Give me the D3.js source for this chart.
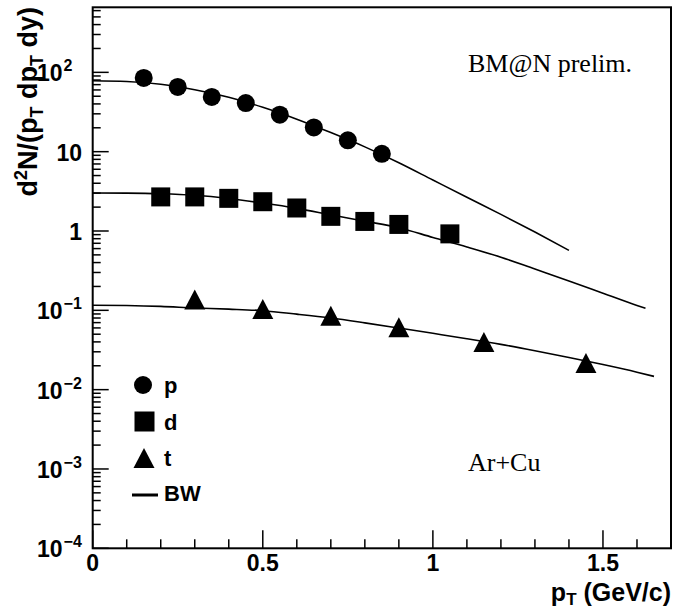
<!DOCTYPE html>
<html><head><meta charset="utf-8">
<script src="https://cdn.jsdelivr.net/npm/d3@7"></script>
<style>body{margin:0;background:#fff}svg{display:block}</style>
</head><body>
<svg id="c" width="674" height="611"></svg>
<script>
// ---- data ----
const pT_p = [0.15,0.25,0.35,0.45,0.55,0.65,0.75,0.85];
const val_p = [85,65.5,49,41,29.3,20.2,13.9,9.4];
const pT_d = [0.2,0.3,0.4,0.5,0.6,0.7,0.8,0.9,1.05];
const val_d = [2.69,2.69,2.58,2.34,1.95,1.53,1.32,1.21,0.92];
const pT_t = [0.3,0.5,0.7,0.9,1.15,1.45];
const val_t = [0.137,0.104,0.0855,0.0612,0.040,0.0216];
// blast-wave fit curves
const bwX_p = [0,0.1,0.2,0.3,0.4,0.5,0.6,0.7,0.8,0.9,1.0,1.1,1.2,1.3,1.4];
const bwY_p = [78.5,76.7,70.8,60.3,48.4,36.3,25.7,17.4,11.5,7.25,4.39,2.66,1.62,0.97,0.57];
const bwX_d = [0,0.1,0.2,0.3,0.4,0.5,0.6,0.7,0.8,0.9,1.0,1.1,1.2,1.3,1.4,1.5,1.6,1.625];
const bwY_d = [3.01,3.0,2.95,2.82,2.57,2.25,1.93,1.60,1.33,1.10,0.83,0.63,0.468,0.331,0.234,0.164,0.115,0.106];
const bwX_t = [0,0.1,0.2,0.3,0.4,0.5,0.6,0.7,0.8,0.9,1.0,1.1,1.2,1.3,1.4,1.5,1.6,1.65];
const bwY_t = [0.116,0.115,0.112,0.107,0.1035,0.0989,0.0895,0.080,0.0695,0.0598,0.0513,0.0439,0.0372,0.0309,0.0254,0.0207,0.0166,0.0147];
const xTickLabels = ["0","0.5","1","1.5"];
const xTickVals = [0,0.5,1,1.5];
const yDecades = [2,1,0,-1,-2,-3,-4];
const legendLabels = ["p","d","t","BW"];

// ---- layout ----
const L=92.7, R=671, T=7.3, B=548.3;
const x = d3.scaleLinear().domain([0,1.7]).range([L,R]);
const y = d3.scaleLog().domain([1e-4, Math.pow(10,2.82)]).range([B,T]);
const svg = d3.select("#c");
const g = svg.append("g");

// curves
const line = d3.line().x(d=>x(d[0])).y(d=>y(d[1])).curve(d3.curveMonotoneX);
[[bwX_p,bwY_p],[bwX_d,bwY_d],[bwX_t,bwY_t]].forEach(([xs,ys])=>{
  g.append("path").datum(xs.map((v,i)=>[v,ys[i]])).attr("d",line)
   .attr("fill","none").attr("stroke","#000").attr("stroke-width",1.6);
});

// markers
g.selectAll("circle.p").data(pT_p.map((v,i)=>[v,val_p[i]])).enter().append("circle")
  .attr("cx",d=>x(d[0])).attr("cy",d=>y(d[1])).attr("r",9).attr("fill","#000");
const sq=19;
g.selectAll("rect.d").data(pT_d.map((v,i)=>[v,val_d[i]])).enter().append("rect")
  .attr("x",d=>x(d[0])-sq/2).attr("y",d=>y(d[1])-sq/2).attr("width",sq).attr("height",sq).attr("fill","#000");
const tri=(cx,cy,w,h)=>`M${cx-w/2},${cy+h/2}L${cx+w/2},${cy+h/2}L${cx},${cy-h/2}Z`;
g.selectAll("path.t").data(pT_t.map((v,i)=>[v,val_t[i]])).enter().append("path")
  .attr("d",d=>tri(x(d[0]),y(d[1]),21,20)).attr("fill","#000");

// frame
g.append("rect").attr("x",L).attr("y",T).attr("width",R-L).attr("height",B-T)
  .attr("fill","none").attr("stroke","#000").attr("stroke-width",2);

const ff="Liberation Sans, Arial, sans-serif";
// x ticks
const xMinor = d3.range(0,17).map(i=>i/10);
g.selectAll("line.xt").data(xMinor).enter().append("line")
  .attr("x1",d=>x(d)).attr("x2",d=>x(d)).attr("y1",B)
  .attr("y2",(d,i)=> i%5===0 ? B-18 : B-9).attr("stroke","#000").attr("stroke-width",1.5);
g.selectAll("text.xl").data(xTickVals).enter().append("text")
  .attr("x",d=>x(d)).attr("y",571).attr("text-anchor","middle")
  .attr("font-family",ff).attr("font-weight","bold").attr("font-size",23)
  .text((d,i)=>xTickLabels[i]);

// y ticks
const yTicks=[];
for(let e=-4;e<=2;e++){ for(let m=1;m<=9;m++){ const v=m*Math.pow(10,e); if(v<=Math.pow(10,2.82)) yTicks.push({v,major:m===1}); } }
g.selectAll("line.yt").data(yTicks).enter().append("line")
  .attr("x1",L).attr("x2",d=>L+(d.major?16:8)).attr("y1",d=>y(d.v)).attr("y2",d=>y(d.v))
  .attr("stroke","#000").attr("stroke-width",1.5);
yDecades.forEach(e=>{
  const yy=y(Math.pow(10,e))+9;
  if(e===1||e===0){
    g.append("text").attr("x",82).attr("y",yy).attr("text-anchor","end")
     .attr("font-family",ff).attr("font-weight","bold").attr("font-size",23).text(e===1?"10":"1");
  } else {
    const t=g.append("text").attr("x",37).attr("y",yy).attr("font-family",ff).attr("font-weight","bold").attr("font-size",23);
    t.append("tspan").text("10");
    t.append("tspan").attr("dx",1).attr("dy",-10).attr("font-size",16).text(e<0?"\u2212"+(-e):String(e));
  }
});

// axis titles
const yt=g.append("text").attr("transform","translate(37,7) rotate(-90)").attr("text-anchor","end")
  .attr("font-family",ff).attr("font-weight","bold").attr("font-size",27);
yt.append("tspan").text("d");
yt.append("tspan").attr("dy",-10).attr("font-size",18).text("2");
yt.append("tspan").attr("dy",10).text("N/(p");
yt.append("tspan").attr("dy",6).attr("font-size",18).text("T");
yt.append("tspan").attr("dy",-6).text(" dp");
yt.append("tspan").attr("dy",6).attr("font-size",18).text("T");
yt.append("tspan").attr("dy",-6).text(" dy)");

const xt=g.append("text").attr("x",671).attr("y",601).attr("text-anchor","end")
  .attr("font-family",ff).attr("font-weight","bold").attr("font-size",25);
xt.append("tspan").text("p");
xt.append("tspan").attr("dy",4).attr("font-size",17).text("T");
xt.append("tspan").attr("dy",-4).text(" (GeV/c)");

// annotations
const serif="Liberation Serif, Times New Roman, serif";
g.append("text").attr("x",468).attr("y",72).attr("font-family",serif).attr("font-size",26).text("BM@N prelim.");
g.append("text").attr("x",468).attr("y",471).attr("font-family",serif).attr("font-size",26).text("Ar+Cu");

// legend
const lx=144, ly=[385,421.5,458,495];
g.append("circle").attr("cx",lx-1).attr("cy",ly[0]).attr("r",9).attr("fill","#000");
g.append("rect").attr("x",lx-9.5).attr("y",ly[1]-10).attr("width",20).attr("height",20).attr("fill","#000");
g.append("path").attr("d",tri(lx,ly[2],21,20)).attr("fill","#000");
g.append("line").attr("x1",132).attr("x2",158).attr("y1",ly[3]).attr("y2",ly[3]).attr("stroke","#000").attr("stroke-width",3);
legendLabels.forEach((s,i)=>{
  g.append("text").attr("x",164).attr("y",ly[i]+(i===0?8:i===3?6:8)).attr("font-family",ff).attr("font-weight","bold").attr("font-size",22).text(s);
});
</script>
</body></html>
